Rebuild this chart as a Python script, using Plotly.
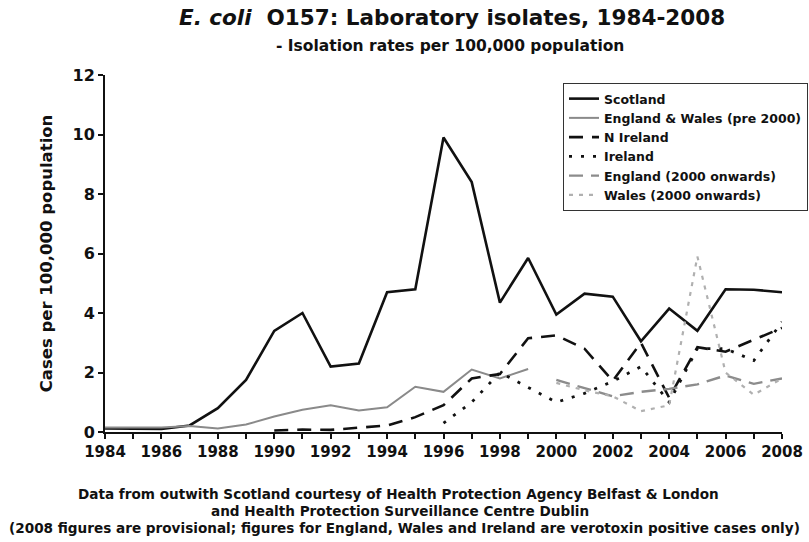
import plotly.graph_objects as go

years = list(range(1984, 2009))

scotland = [0.12, 0.1, 0.1, 0.22, 0.8, 1.75, 3.4, 4.0, 2.2, 2.3, 4.7, 4.8, 9.9, 8.4, 4.35, 5.85,
            3.95, 4.65, 4.55, 3.05, 4.15, 3.4, 4.8, 4.78, 4.7]
eng_wales_pre2000 = [0.15, 0.15, 0.15, 0.2, 0.12, 0.25, 0.52, 0.75, 0.9, 0.72, 0.83, 1.52, 1.35, 2.1,
                     1.8, 2.12] + [None] * 9
n_ireland = [None] * 6 + [0.05, 0.08, 0.07, 0.15, 0.22, 0.5, 0.9, 1.8, 1.95, 3.15,
                          3.25, 2.8, 1.72, 3.0, 1.15, 2.85, 2.7, 3.1, 3.5]
ireland = [None] * 12 + [0.3, 1.0, 2.0, 1.5, 1.0, 1.3, 1.7, 2.2, 1.0, 2.8, 2.8, 2.4, 3.7]
england_2000 = [None] * 16 + [1.75, 1.48, 1.2, 1.35, 1.45, 1.6, 1.9, 1.62, 1.8]
wales_2000 = [None] * 16 + [1.65, 1.4, 1.2, 0.7, 0.9, 5.9, 2.0, 1.25, 1.8]

series_names = ["Scotland", "England & Wales (pre 2000)", "N Ireland", "Ireland",
                "England (2000 onwards)", "Wales (2000 onwards)"]
series_values = [scotland, eng_wales_pre2000, n_ireland, ireland, england_2000, wales_2000]
styles = [
    dict(color="#111111", width=2.6, dash="solid"),
    dict(color="#8a8a8a", width=2.0, dash="solid"),
    dict(color="#111111", width=2.6, dash="14px,9px"),
    dict(color="#111111", width=2.8, dash="3px,9px"),
    dict(color="#8c8c8c", width=2.4, dash="14px,8px"),
    dict(color="#b0b0b0", width=2.2, dash="4px,6px"),
]

tick_text = [str(y) if y % 2 == 0 else "" for y in years]

FONT = "'DejaVu Sans', Arial, sans-serif"
W, H = 809, 542
ML, MR, MT, MB = 105, 27, 75, 110
PW = W - ML - MR
PH = H - MT - MB


def px_x(px):
    return (px - ML) / PW


def px_y(py):
    return (H - MB - py) / PH


fig = go.Figure()
for i, (name, vals, st) in enumerate(zip(series_names, series_values, styles)):
    fig.add_trace(go.Scatter(x=years, y=vals, mode="lines", name=name, line=st,
                             connectgaps=False))

annotations = [
    dict(text="<b><i>E. coli</i>  O157: Laboratory isolates, 1984-2008</b>",
         x=px_x(452), y=px_y(18), size=21.5),
    dict(text="<b>- Isolation rates per 100,000 population</b>",
         x=px_x(450), y=px_y(46), size=15.5),
    dict(text="<b>Data from outwith Scotland courtesy of Health Protection Agency Belfast &amp; London</b>",
         x=px_x(398), y=px_y(494), size=13.6),
    dict(text="<b>and Health Protection Surveillance Centre Dublin</b>",
         x=px_x(400), y=px_y(511), size=13.6),
    dict(text="<b>(2008 figures are provisional; figures for England, Wales and Ireland are verotoxin positive cases only)</b>",
         x=px_x(404), y=px_y(528), size=13.6),
]
anns = []
for a in annotations:
    anns.append(dict(text=a["text"], x=a["x"], y=a["y"], xref="paper", yref="paper",
                     xanchor="center", yanchor="middle", showarrow=False,
                     font=dict(family=FONT, size=a["size"], color="#111111")))

fig.update_layout(
    width=W, height=H,
    margin=dict(l=ML, r=MR, t=MT, b=MB, autoexpand=False),
    paper_bgcolor="white", plot_bgcolor="white",
    font=dict(family=FONT, color="#111111"),
    showlegend=True,
    legend=dict(
        x=px_x(808), y=px_y(83), xanchor="right", yanchor="top",
        xref="paper", yref="paper",
        bordercolor="#333333", borderwidth=1, bgcolor="white",
        font=dict(family=FONT, size=12.5, color="#111111", weight="bold"),
        tracegroupgap=0, itemwidth=30,
    ),
    xaxis=dict(
        range=[1984, 2008], tickvals=years, ticktext=tick_text,
        showgrid=False, zeroline=False, showline=True, linecolor="#111111", linewidth=2,
        ticks="outside", ticklen=5, tickwidth=1.5, tickcolor="#111111",
        tickfont=dict(family=FONT, size=15, color="#111111", weight="bold"),
        automargin=False,
    ),
    yaxis=dict(
        range=[0, 12], tickvals=[0, 2, 4, 6, 8, 10, 12],
        showgrid=False, zeroline=False, showline=True, linecolor="#111111", linewidth=2,
        ticks="outside", ticklen=5, tickwidth=1.5, tickcolor="#111111",
        tickfont=dict(family=FONT, size=16, color="#111111", weight="bold"),
        title=dict(text="<b>Cases per 100,000 population</b>",
                   font=dict(family=FONT, size=16.5, color="#111111"), standoff=16),
        automargin=False,
    ),
    annotations=anns,
)

fig.write_html("out.html", config={"displayModeBar": False},
               post_script="document.body.style.margin='0';document.body.style.padding='0';")
